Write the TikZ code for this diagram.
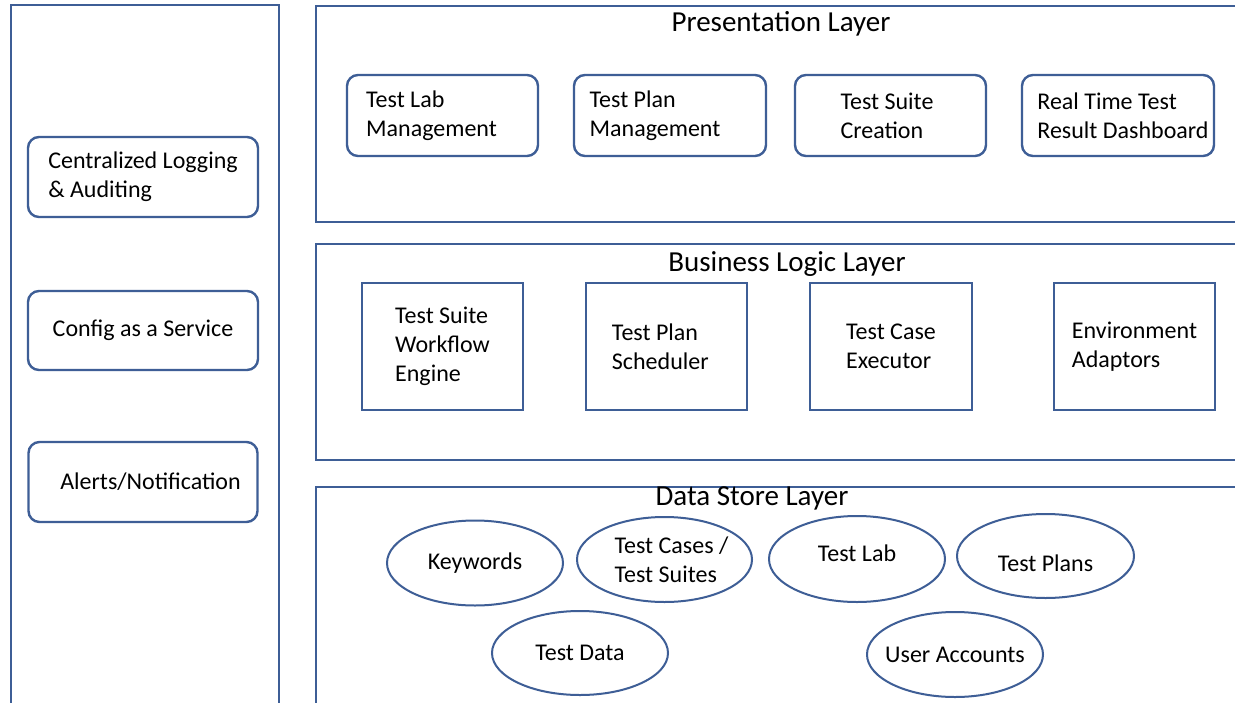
\documentclass[tikz,border=0pt]{standalone}
\usepackage{fontspec}
\setmainfont{Carlito}
\usetikzlibrary{shapes.geometric}
\definecolor{edge}{RGB}{62,94,150}
\tikzset{
  panel/.style={draw=edge, line width=2.6pt},
  rbox/.style={draw=edge, line width=2.4pt, rounded corners=11pt, align=left, inner sep=0pt,
    font=\fontsize{24}{29}\selectfont},
  sbox/.style={draw=edge, line width=2.4pt, align=left, inner sep=0pt,
    font=\fontsize{24}{29}\selectfont},
  oval/.style={draw=edge, line width=2pt, ellipse, align=center, inner sep=-20pt,
    font=\fontsize{24}{29}\selectfont},
  title/.style={font=\fontsize{29}{32}\selectfont, inner sep=0pt},
}
\begin{document}
\begin{tikzpicture}[x=1pt,y=-1pt]
\useasboundingbox (0,0) rectangle (1235,702);
\fill[white] (0,0) rectangle (1235,702);
% left panel
\draw[panel] (11,710) -- (11,5) -- (279,5) -- (279,710);
% layer panels (open to the right)
\draw[panel] (1245,6) -- (316,6) -- (316,222) -- (1245,222);
\draw[panel] (1245,244) -- (316,244) -- (316,460) -- (1245,460);
\draw[panel] (1245,487) -- (316,487) -- (316,710);
% titles
\node[title] (tp) at (781,24) {Presentation Layer};
\node[title] (tb) at (787,264) {Business Logic Layer};
\node[title] (td) at (752,498) {Data Store Layer};
% left side services
\node[rbox, minimum width=230pt, minimum height=80pt] (log) at (143,177) {Centralized Logging\\\& Auditing};
\node[rbox, minimum width=230pt, minimum height=79pt] (cfg) at (143,330.5) {Config as a Service};
\node[rbox, minimum width=229pt, minimum height=80pt] (alert) at (143,482) {\hspace*{15pt}Alerts/Notification};
% presentation layer
\node[rbox, minimum width=191pt, minimum height=81pt] (p1) at (442.5,115.5) {Test Lab\\Management\hspace*{22pt}};
\node[rbox, minimum width=192pt, minimum height=81pt] (p2) at (670,115.5) {Test Plan\\Management\hspace*{30pt}};
\node[rbox, minimum width=191pt, minimum height=81pt] (p3) at (890.5,115.5) {Test Suite\hspace*{7pt}\\Creation};
\node[rbox, minimum width=192pt, minimum height=81pt] (p4) at (1118,115.5) {\hspace*{10pt}Real Time Test\\\hspace*{10pt}Result Dashboard};
% business logic layer
\node[sbox, minimum width=161pt, minimum height=127pt] (b1) at (442.5,346.5) {Test Suite\\Workflow\\Engine};
\node[sbox, minimum width=161pt, minimum height=127pt] (b2) at (666.5,346.5) {Test Plan\hspace*{23pt}\\Scheduler};
\node[sbox, minimum width=162pt, minimum height=127pt] (b3) at (891,346.5) {Test Case\\Executor};
\node[sbox, minimum width=161pt, minimum height=127pt] (b4) at (1134.5,346.5) {Environment\\Adaptors};
% data store layer
\node[oval, minimum width=176pt, minimum height=85pt] (d1) at (475,563) {Keywords};
\node[oval, align=left, minimum width=175pt, minimum height=85pt] (d2) at (664.5,559.5) {\hspace*{14pt}Test Cases /\\\hspace*{14pt}Test Suites};
\node[oval, minimum width=176pt, minimum height=86pt] (d3) at (857,559) {Test Lab\\[-17pt]};
\node[oval, minimum width=177pt, minimum height=84pt] (d4) at (1045.5,556) {\strut\\[-19pt]Test Plans};
\node[oval, minimum width=176pt, minimum height=84pt] (d5) at (580,653) {Test Data};
\node[oval, minimum width=176pt, minimum height=85pt] (d6) at (955,654.5) {User Accounts};
\end{tikzpicture}
\end{document}
